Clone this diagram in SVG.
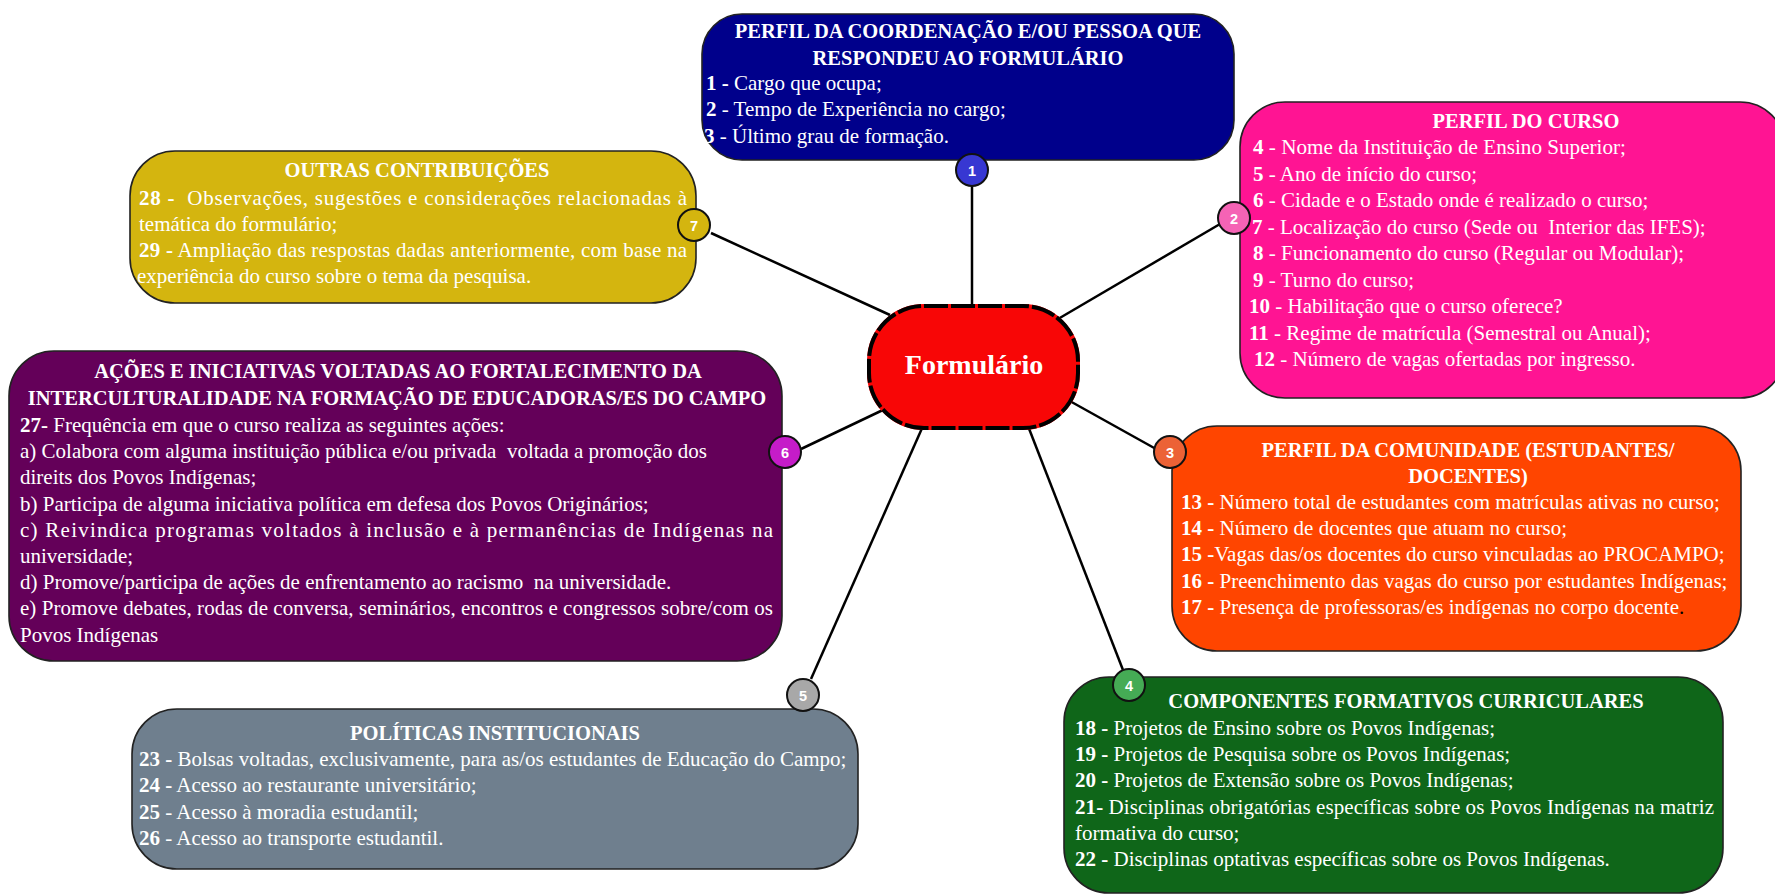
<svg xmlns="http://www.w3.org/2000/svg" width="1775" height="895" viewBox="0 0 1775 895">
<style>
.box{stroke:#222;stroke-width:1.6}
.t{font-family:"Liberation Serif","Times New Roman",serif;font-size:21px;fill:#fff}
.h{font-weight:bold;text-anchor:middle;font-size:20.5px}
.b{font-weight:bold}
.nt{font-family:"Liberation Sans",Arial,sans-serif;font-size:14.5px;font-weight:bold;fill:#fff;text-anchor:middle}
.con{stroke:#000;stroke-width:2.5;fill:none}
</style>
<rect width="1775" height="895" fill="#fff"/>
<g id="connectors">
<line class="con" x1="972" y1="186" x2="972" y2="308"/>
<line class="con" x1="1058" y1="319" x2="1220" y2="224"/>
<line class="con" x1="1068" y1="400" x2="1156" y2="449"/>
<line class="con" x1="1028" y1="426" x2="1123" y2="670"/>
<line class="con" x1="923" y1="426" x2="811" y2="679"/>
<line class="con" x1="885" y1="409" x2="801" y2="449"/>
<line class="con" x1="890" y1="315" x2="711" y2="233"/>
</g>
<g id="node1">
<rect class="box" x="702" y="14" width="532" height="146" rx="40" fill="#00008B"/>
<text class="t h" x="968" y="38">PERFIL DA COORDENAÇÃO E/OU PESSOA QUE</text>
<text class="t h" x="968" y="65">RESPONDEU AO FORMULÁRIO</text>
<text class="t" x="706" y="90"><tspan class="b">1 -</tspan> Cargo que ocupa;</text>
<text class="t" x="706" y="116"><tspan class="b">2</tspan> - Tempo de Experiência no cargo;</text>
<text class="t" x="704" y="143"><tspan class="b">3</tspan> - Último grau de formação.</text>
<circle cx="972" cy="170" r="16" fill="#3737D2" stroke="#111" stroke-width="2"/>
<text class="nt" x="972" y="175.5">1</text>
</g>
<g id="node2">
<rect class="box" x="1240" y="102" width="545" height="296" rx="45" fill="#FF1493"/>
<text class="t h" x="1526" y="128">PERFIL DO CURSO</text>
<text class="t" x="1253" y="154" textLength="373" lengthAdjust="spacingAndGlyphs"><tspan class="b">4</tspan> - Nome da Instituição de Ensino Superior;</text>
<text class="t" x="1253" y="180.5"><tspan class="b">5</tspan> - Ano de início do curso;</text>
<text class="t" x="1253" y="207"><tspan class="b">6</tspan> - Cidade e o Estado onde é realizado o curso;</text>
<text class="t" x="1252" y="233.5"><tspan class="b">7</tspan> - Localização do curso (Sede ou&#160; Interior das IFES);</text>
<text class="t" x="1253" y="260"><tspan class="b">8</tspan> - Funcionamento do curso (Regular ou Modular);</text>
<text class="t" x="1253" y="286.5"><tspan class="b">9</tspan> - Turno do curso;</text>
<text class="t" x="1249" y="313"><tspan class="b">10</tspan> - Habilitação que o curso oferece?</text>
<text class="t" x="1249" y="339.5"><tspan class="b">11</tspan> - Regime de matrícula (Semestral ou Anual);</text>
<text class="t" x="1254" y="366"><tspan class="b">12</tspan> - Número de vagas ofertadas por ingresso.</text>
<circle cx="1234" cy="218" r="16" fill="#F563B5" stroke="#111" stroke-width="2"/>
<text class="nt" x="1234" y="223.5">2</text>
</g>
<g id="node3">
<rect class="box" x="1172" y="426" width="569" height="225" rx="45" fill="#FF4500"/>
<text class="t h" x="1468" y="457">PERFIL DA COMUNIDADE (ESTUDANTES/</text>
<text class="t h" x="1468" y="483">DOCENTES)</text>
<text class="t" x="1181" y="509"><tspan class="b">13 -</tspan> Número total de estudantes com matrículas ativas no curso;</text>
<text class="t" x="1181" y="535"><tspan class="b">14 -</tspan> Número de docentes que atuam no curso;</text>
<text class="t" x="1181" y="561"><tspan class="b">15 -</tspan>Vagas das/os docentes do curso vinculadas ao PROCAMPO;</text>
<text class="t" x="1181" y="588"><tspan class="b">16 -</tspan> Preenchimento das vagas do curso por estudantes Indígenas;</text>
<text class="t" x="1181" y="614"><tspan class="b">17 -</tspan> Presença de professoras/es indígenas no corpo docente<tspan fill="#000">.</tspan></text>
<circle cx="1170" cy="452" r="16" fill="#EC6236" stroke="#111" stroke-width="2"/>
<text class="nt" x="1170" y="457.5">3</text>
</g>
<g id="node4">
<rect class="box" x="1064" y="677" width="659" height="216" rx="45" fill="#0F6619"/>
<text class="t h" x="1406" y="708">COMPONENTES FORMATIVOS CURRICULARES</text>
<text class="t" x="1075" y="735"><tspan class="b">18 -</tspan> Projetos de Ensino sobre os Povos Indígenas;</text>
<text class="t" x="1075" y="761"><tspan class="b">19 -</tspan> Projetos de Pesquisa sobre os Povos Indígenas;</text>
<text class="t" x="1075" y="787"><tspan class="b">20 -</tspan> Projetos de Extensão sobre os Povos Indígenas;</text>
<text class="t" x="1075" y="814" textLength="639" lengthAdjust="spacing"><tspan class="b">21-</tspan> Disciplinas obrigatórias específicas sobre os Povos Indígenas na matriz</text>
<text class="t" x="1075" y="840">formativa do curso;</text>
<text class="t" x="1075" y="866"><tspan class="b">22 -</tspan> Disciplinas optativas específicas sobre os Povos Indígenas.</text>
<circle cx="1129" cy="685" r="16" fill="#45AB55" stroke="#111" stroke-width="2"/>
<text class="nt" x="1129" y="690.5">4</text>
</g>
<g id="node5">
<rect class="box" x="132" y="709" width="726" height="160" rx="45" fill="#6F7F8E"/>
<text class="t h" x="495" y="740">POLÍTICAS INSTITUCIONAIS</text>
<text class="t" x="139" y="766"><tspan class="b">23 -</tspan> Bolsas voltadas, exclusivamente, para as/os estudantes de Educação do Campo;</text>
<text class="t" x="139" y="792"><tspan class="b">24 -</tspan> Acesso ao restaurante universitário;</text>
<text class="t" x="139" y="819"><tspan class="b">25</tspan> - Acesso à moradia estudantil;</text>
<text class="t" x="139" y="845"><tspan class="b">26</tspan> - Acesso ao transporte estudantil.</text>
<circle cx="803" cy="695" r="16" fill="#A8A8A8" stroke="#111" stroke-width="2"/>
<text class="nt" x="803" y="700.5">5</text>
</g>
<g id="node6">
<rect class="box" x="9" y="351" width="773" height="310" rx="45" fill="#640059"/>
<text class="t h" x="398" y="378">AÇÕES E INICIATIVAS VOLTADAS AO FORTALECIMENTO DA</text>
<text class="t h" x="397" y="405">INTERCULTURALIDADE NA FORMAÇÃO DE EDUCADORAS/ES DO CAMPO</text>
<text class="t" x="20" y="432"><tspan class="b">27-</tspan> Frequência em que o curso realiza as seguintes ações:</text>
<text class="t" x="20" y="458">a) Colabora com alguma instituição pública e/ou privada&#160; voltada a promoção dos</text>
<text class="t" x="20" y="484">direits dos Povos Indígenas;</text>
<text class="t" x="20" y="511">b) Participa de alguma iniciativa política em defesa dos Povos Originários;</text>
<text class="t" x="20" y="537" textLength="753" lengthAdjust="spacing">c) Reivindica programas voltados à inclusão e à permanências de Indígenas na</text>
<text class="t" x="20" y="563">universidade;</text>
<text class="t" x="20" y="589">d) Promove/participa de ações de enfrentamento ao racismo&#160; na universidade.</text>
<text class="t" x="20" y="615" textLength="753" lengthAdjust="spacing">e) Promove debates, rodas de conversa, seminários, encontros e congressos sobre/com os</text>
<text class="t" x="20" y="642">Povos Indígenas</text>
<circle cx="785" cy="452" r="16" fill="#C51CC8" stroke="#111" stroke-width="2"/>
<text class="nt" x="785" y="457.5">6</text>
</g>
<g id="node7">
<rect class="box" x="130" y="151" width="566" height="152" rx="45" fill="#D4B50F"/>
<text class="t h" x="417" y="177">OUTRAS CONTRIBUIÇÕES</text>
<text class="t" x="139" y="205" textLength="548" lengthAdjust="spacing"><tspan class="b">28 -</tspan>&#160; Observações, sugestões e considerações relacionadas à</text>
<text class="t" x="139" y="231">temática do formulário;</text>
<text class="t" x="139" y="257" textLength="548" lengthAdjust="spacing"><tspan class="b">29 -</tspan> Ampliação das respostas dadas anteriormente, com base na</text>
<text class="t" x="137" y="283">experiência do curso sobre o tema da pesquisa.</text>
<circle cx="694" cy="225" r="16" fill="#D4B50F" stroke="#111" stroke-width="2"/>
<text class="nt" x="694" y="230.5">7</text>
</g>
<g id="center">
<rect x="869" y="306" width="209" height="122" rx="55" fill="#F80606" stroke="#F80606" stroke-width="4"/>
<rect x="869" y="306" width="209" height="122" rx="55" fill="none" stroke="#000" stroke-width="4" stroke-dasharray="24 3"/>
<text x="974" y="374" font-family="'Liberation Serif','Times New Roman',serif" font-size="28" font-weight="bold" fill="#fff" text-anchor="middle">Formulário</text>
</g>
</svg>
